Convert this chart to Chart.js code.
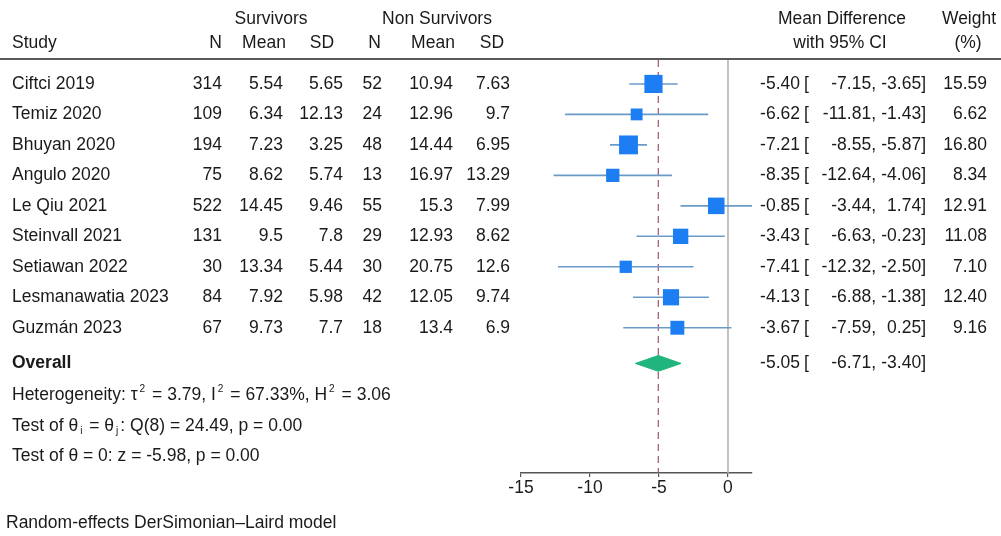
<!DOCTYPE html>
<html>
<head>
<meta charset="utf-8">
<script src="https://cdn.jsdelivr.net/npm/chart.js@4.4.1/dist/chart.umd.min.js"></script>
<style>
html,body{margin:0;padding:0;background:#fff;}
#wrap{width:1001px;height:536px;position:relative;}
</style>
</head>
<body>
<div id="wrap"><canvas id="c" width="1001" height="536"></canvas></div>
<script>
// ---- data ----
const studies = ['Ciftci 2019','Temiz 2020','Bhuyan 2020','Angulo 2020','Le Qiu 2021','Steinvall 2021','Setiawan 2022','Lesmanawatia 2023','Guzmán 2023'];
const survN = [314,109,194,75,522,131,30,84,67];
const survMean = [5.54,6.34,7.23,8.62,14.45,9.5,13.34,7.92,9.73];
const survSD = [5.65,12.13,3.25,5.74,9.46,7.8,5.44,5.98,7.7];
const nonN = [52,24,48,13,55,29,30,42,18];
const nonMean = [10.94,12.96,14.44,16.97,15.3,12.93,20.75,12.05,13.4];
const nonSD = [7.63,9.7,6.95,13.29,7.99,8.62,12.6,9.74,6.9];
const meanDiff = [-5.40,-6.62,-7.21,-8.35,-0.85,-3.43,-7.41,-4.13,-3.67];
const ciLow = [-7.15,-11.81,-8.55,-12.64,-3.44,-6.63,-12.32,-6.88,-7.59];
const ciHigh = [-3.65,-1.43,-5.87,-4.06,1.74,-0.23,-2.50,-1.38,0.25];
const weights = [15.59,6.62,16.80,8.34,12.91,11.08,7.10,12.40,9.16];
const overallMD = -5.05;
const overallLow = -6.71;
const overallHigh = -3.40;
const xTicks = [-15,-10,-5,0];
const xMin = -15;
const xMax = 1.74;

// ---- layout helpers ----
const FONT = '"Liberation Sans", Arial, Helvetica, sans-serif';
const FS = 17.5;
const yMin = 0.2144, yMax = 13.766;
const rowPos = studies.map((s,i)=>i+1);
const overallPos = 10.17;
const statPos = [11.2, 12.22, 13.2];
const TEXT = '#1a1a1a';

const datasets = [];
// markers
datasets.push({
  type:'line', showLine:false, order:0,
  data: meanDiff.map((v,i)=>({x:v,y:rowPos[i]})),
  pointStyle:'rect',
  pointRadius: weights.map(w=>4.6*Math.sqrt(w)/Math.SQRT2),
  pointBackgroundColor:'#1c7ef2', pointBorderWidth:0, pointBorderColor:'#1c7ef2'
});
// diamond
const dh = 0.26;
datasets.push({
  type:'line', order:1,
  data:[{x:overallLow,y:overallPos},{x:overallMD,y:overallPos-dh},{x:overallHigh,y:overallPos},{x:overallMD,y:overallPos+dh},{x:overallLow,y:overallPos}],
  borderColor:'#1fb57c', backgroundColor:'#1fb57c', borderWidth:1, fill:'shape', pointRadius:0, tension:0
});
// CI lines
ciLow.forEach((lo,i)=>{
  datasets.push({
    type:'line', order:2,
    data:[{x:lo,y:rowPos[i]},{x:ciHigh[i],y:rowPos[i]}],
    borderColor:'#6a9bc8', borderWidth:1.6, pointRadius:0, fill:false
  });
});
// overall dashed line
datasets.push({
  type:'line', order:3,
  data:[{x:overallMD,y:yMin},{x:overallMD,y:yMax}],
  borderColor:'#a3536f', borderWidth:1.2, borderDash:[7,5], pointRadius:0, fill:false
});
// zero line
datasets.push({
  type:'line', order:4,
  data:[{x:0,y:yMin},{x:0,y:yMax}],
  borderColor:'#b4b4b4', borderWidth:1.6, pointRadius:0, fill:false
});

function drawRich(ctx, x, y, segs){
  let cx = x;
  segs.forEach(s=>{
    if (s.sup || s.sub){
      cx += 2;
      ctx.font = `${FS*0.58}px ${FONT}`;
      ctx.fillText(s.t, cx, y + (s.sup ? -6 : 5));
      cx += ctx.measureText(s.t).width + 2;
    } else {
      ctx.font = `${FS}px ${FONT}`;
      ctx.fillText(s.t, cx, y);
      cx += ctx.measureText(s.t).width;
    }
  });
  ctx.font = `${FS}px ${FONT}`;
}

const textPlugin = {
  id:'forestText',
  afterDraw(chart){
    const ctx = chart.ctx;
    const ys = chart.scales.y;
    ctx.save();
    // header rule
    ctx.strokeStyle = '#5a5a5a'; ctx.lineWidth = 2;
    ctx.beginPath(); ctx.moveTo(0,59); ctx.lineTo(1001,59); ctx.stroke();

    ctx.fillStyle = TEXT; ctx.textBaseline = 'middle';
    ctx.font = `${FS}px ${FONT}`;
    const t = (s,x,y,al)=>{ctx.textAlign=al; ctx.fillText(s,x,y);};
    t('Survivors',271,19,'center');
    t('Non Survivors',437,19,'center');
    t('Mean Difference',842,19,'center');
    t('Weight',969,19,'center');
    t('Study',12,43,'left');
    t('N',222,43,'right');
    t('Mean',264,43,'center');
    t('SD',322,43,'center');
    t('N',381,43,'right');
    t('Mean',433,43,'center');
    t('SD',492,43,'center');
    t('with 95% CI',840,43,'center');
    t('(%)',968,43,'center');

    studies.forEach((s,i)=>{
      const y = ys.getPixelForValue(rowPos[i]);
      t(s,12,y,'left');
      t(String(survN[i]),222,y,'right');
      t(String(survMean[i]),283,y,'right');
      t(String(survSD[i]),343,y,'right');
      t(String(nonN[i]),382,y,'right');
      t(String(nonMean[i]),453,y,'right');
      t(String(nonSD[i]),510,y,'right');
      t(meanDiff[i].toFixed(2),800,y,'right');
      t('[',804,y,'left');
      t(ciLow[i].toFixed(2)+',',876,y,'right');
      t(ciHigh[i].toFixed(2)+']',926,y,'right');
      t(weights[i].toFixed(2),987,y,'right');
    });
    const yo = ys.getPixelForValue(overallPos);
    ctx.font = `bold ${FS}px ${FONT}`;
    t('Overall',12,yo,'left');
    ctx.font = `${FS}px ${FONT}`;
    t(overallMD.toFixed(2),800,yo,'right');
    t('[',804,yo,'left');
    t(overallLow.toFixed(2)+',',876,yo,'right');
    t(overallHigh.toFixed(2)+']',926,yo,'right');

    ctx.textAlign = 'left';
    drawRich(ctx,12,ys.getPixelForValue(statPos[0]),[
      {t:'Heterogeneity: τ'},{t:'2',sup:true},{t:' = 3.79, I'},{t:'2',sup:true},{t:' = 67.33%, H'},{t:'2',sup:true},{t:' = 3.06'}]);
    drawRich(ctx,12,ys.getPixelForValue(statPos[1]),[
      {t:'Test of θ'},{t:'i',sub:true},{t:' = θ'},{t:'j',sub:true},{t:': Q(8) = 24.49, p = 0.00'}]);
    drawRich(ctx,12,ys.getPixelForValue(statPos[2]),[
      {t:'Test of θ = 0: z = -5.98, p = 0.00'}]);
    t('Random-effects DerSimonian–Laird model',6,523,'left');
    ctx.restore();
  }
};

new Chart(document.getElementById('c'),{
  type:'line',
  data:{datasets},
  options:{
    responsive:false, animation:false, events:[],
    layout:{padding:{left:521,right:249,top:60,bottom:36}},
    plugins:{legend:{display:false},tooltip:{enabled:false}},
    scales:{
      x:{type:'linear',min:xMin,max:xMax,
        afterBuildTicks:(ax)=>{ax.ticks = xTicks.map(v=>({value:v}));},
        grid:{drawOnChartArea:false,drawTicks:true,tickLength:4,color:'#555',lineWidth:1.2},
        border:{display:true,color:'#555',width:1.5},
        ticks:{padding:1,color:TEXT,font:{family:FONT,size:FS},maxRotation:0,autoSkip:false}
      },
      y:{type:'linear',reverse:true,min:yMin,max:yMax,display:false}
    }
  },
  plugins:[textPlugin]
});
</script>
</body>
</html>
